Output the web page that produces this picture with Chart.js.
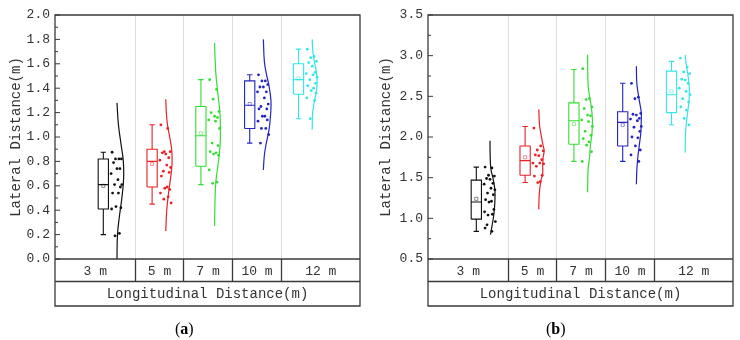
<!DOCTYPE html>
<html lang="en">
<head>
<meta charset="UTF-8">
<title>Lateral Distance vs Longitudinal Distance</title>
<script src="https://cdn.jsdelivr.net/npm/chart.js"></script>
<style>
  body { margin: 0; background: #fff; }
  .wrap { position: relative; width: 740px; height: 340px; }
  canvas { position: absolute; top: 0; }
  #chartA { left: 0; }
  #chartB { left: 370px; }
  .panel { position: absolute; top: 320px; font: 16px "Liberation Serif", serif; color: #000; }
</style>
</head>
<body>
<div class="wrap">
  <canvas id="chartA" width="370" height="340"></canvas>
  <canvas id="chartB" width="370" height="340"></canvas>
  <div class="panel" style="left:175px">(<b>a</b>)</div>
  <div class="panel" style="left:546px">(<b>b</b>)</div>
</div>

<script>
const categories = ['3 m', '5 m', '7 m', '10 m', '12 m'];
const colors = ['#111111', '#ea2026', '#33de33', '#2424c2', '#33e6e6'];
const xTitle = 'Longitudinal Distance(m)';
const yTitle = 'Lateral Distance(m)';

// ---- panel (a) ----
const aTicks = [0.0, 0.2, 0.4, 0.6, 0.8, 1.0, 1.2, 1.4, 1.6, 1.8, 2.0];
const aMin  = [0.20, 0.45, 0.61, 0.95, 1.15];
const aQ1   = [0.41, 0.59, 0.76, 1.07, 1.35];
const aMed  = [0.61, 0.80, 1.01, 1.26, 1.47];
const aQ3   = [0.82, 0.90, 1.25, 1.46, 1.60];
const aMax  = [0.875, 1.10, 1.47, 1.51, 1.72];
const aMean = [0.60, 0.78, 1.03, 1.27, 1.48];
const aPoints = [
  [0.875, 0.82, 0.82, 0.82, 0.79, 0.74, 0.74, 0.70, 0.65, 0.61, 0.61, 0.59, 0.54, 0.54, 0.43, 0.42, 0.41, 0.21, 0.19],
  [1.10, 1.07, 0.88, 0.88, 0.87, 0.86, 0.83, 0.81, 0.77, 0.75, 0.72, 0.71, 0.68, 0.59, 0.58, 0.57, 0.54, 0.51, 0.49, 0.46],
  [1.47, 1.39, 1.31, 1.21, 1.20, 1.17, 1.16, 1.14, 1.13, 1.07, 0.95, 0.93, 0.88, 0.87, 0.86, 0.85, 0.73, 0.63, 0.62],
  [1.51, 1.46, 1.46, 1.43, 1.41, 1.41, 1.37, 1.37, 1.32, 1.27, 1.25, 1.23, 1.23, 1.17, 1.17, 1.14, 1.13, 1.07, 1.07, 1.02, 0.95],
  [1.72, 1.66, 1.65, 1.62, 1.61, 1.58, 1.53, 1.52, 1.51, 1.49, 1.47, 1.44, 1.42, 1.40, 1.38, 1.36, 1.32, 1.30, 1.15]
];
// half violin outline: [lateral distance, half width]
const aViolin = [
  [[0.0, 0], [0.2, 0.01], [0.35, 0.05], [0.5, 0.10], [0.65, 0.135], [0.8, 0.13], [0.95, 0.08], [1.1, 0.03], [1.28, 0]],
  [[0.23, 0], [0.4, 0.02], [0.55, 0.06], [0.7, 0.11], [0.8, 0.13], [0.9, 0.12], [1.0, 0.08], [1.1, 0.035], [1.2, 0.012], [1.31, 0]],
  [[0.27, 0], [0.5, 0.01], [0.65, 0.03], [0.8, 0.08], [0.95, 0.115], [1.05, 0.12], [1.2, 0.11], [1.35, 0.07], [1.5, 0.03], [1.65, 0.01], [1.77, 0]],
  [[0.73, 0], [0.85, 0.02], [0.95, 0.06], [1.07, 0.12], [1.2, 0.15], [1.3, 0.155], [1.43, 0.11], [1.52, 0.06], [1.62, 0.02], [1.8, 0]],
  [[1.06, 0], [1.2, 0.01], [1.3, 0.05], [1.4, 0.095], [1.47, 0.10], [1.55, 0.08], [1.65, 0.03], [1.72, 0.01], [1.8, 0]]
];

// ---- panel (b) ----
const bTicks = [0.5, 1.0, 1.5, 2.0, 2.5, 3.0, 3.5];
const bMin  = [0.84, 1.44, 1.70, 1.70, 2.15];
const bQ1   = [0.99, 1.53, 1.91, 1.89, 2.30];
const bMed  = [1.20, 1.71, 2.20, 2.18, 2.52];
const bQ3   = [1.47, 1.89, 2.42, 2.31, 2.81];
const bMax  = [1.63, 2.13, 2.83, 2.66, 2.93];
const bMean = [1.24, 1.75, 2.16, 2.15, 2.56];
const bPoints = [
  [1.63, 1.62, 1.53, 1.52, 1.49, 1.48, 1.43, 1.42, 1.37, 1.35, 1.31, 1.29, 1.23, 1.21, 1.20, 1.11, 1.08, 1.05, 1.04, 0.96, 0.92, 0.88, 0.84],
  [2.11, 1.89, 1.84, 1.83, 1.78, 1.77, 1.72, 1.68, 1.68, 1.67, 1.64, 1.53, 1.52, 1.45, 1.44],
  [2.84, 2.47, 2.46, 2.37, 2.35, 2.27, 2.26, 2.21, 2.19, 2.13, 2.07, 2.02, 1.98, 1.94, 1.90, 1.82, 1.70],
  [2.66, 2.49, 2.47, 2.29, 2.28, 2.27, 2.23, 2.22, 2.20, 2.13, 2.12, 2.07, 2.00, 1.99, 1.89, 1.84, 1.78, 1.70],
  [2.97, 2.86, 2.80, 2.78, 2.71, 2.70, 2.66, 2.60, 2.56, 2.52, 2.47, 2.43, 2.37, 2.33, 2.23, 2.15]
];
const bViolin = [
  [[0.8, 0.01], [0.9, 0.04], [1.05, 0.08], [1.2, 0.10], [1.35, 0.10], [1.5, 0.06], [1.6, 0.02], [1.75, 0.005], [1.955, 0]],
  [[1.11, 0], [1.3, 0.01], [1.45, 0.04], [1.55, 0.08], [1.65, 0.08], [1.75, 0.09], [1.83, 0.11], [1.92, 0.08], [2.05, 0.04], [2.15, 0.015], [2.34, 0]],
  [[1.32, 0], [1.6, 0.01], [1.75, 0.04], [1.9, 0.06], [2.05, 0.09], [2.2, 0.10], [2.35, 0.08], [2.5, 0.04], [2.65, 0.01], [3.01, 0]],
  [[1.42, 0], [1.6, 0.01], [1.75, 0.03], [1.9, 0.06], [2.05, 0.09], [2.2, 0.10], [2.3, 0.10], [2.45, 0.06], [2.6, 0.02], [2.7, 0.005], [2.87, 0]],
  [[1.81, 0], [2.0, 0.005], [2.15, 0.02], [2.3, 0.05], [2.45, 0.08], [2.6, 0.085], [2.75, 0.06], [2.88, 0.025], [3.01, 0]]
];

// layout bits (category slots sit at 0..4 on a linear x scale)
const boxHalf = 0.105, capHalf = 0.055, violinOffset = 0.28;
const dividers = [0.64, 1.64, 2.64, 3.64];
const jitter = [-0.10, 0.04, -0.03, 0.09, -0.07, 0.0, 0.06, -0.12, 0.02, 0.10, -0.05, 0.07, -0.09, 0.03, -0.02, 0.08, -0.11, 0.05, -0.04, 0.11, -0.06];
const font = '"Liberation Mono", monospace';

function fade(hex, a) {
  const n = parseInt(hex.slice(1), 16);
  return `rgba(${n >> 16},${(n >> 8) & 255},${n & 255},${a})`;
}

function buildDatasets(min, q1, med, q3, max, mean, points, violin) {
  const sets = [];
  categories.forEach((c, i) => {
    const col = colors[i];
    const gap = {x: i, y: null};
    sets.push({
      data: [
        {x: i - boxHalf, y: q1[i]}, {x: i + boxHalf, y: q1[i]}, {x: i + boxHalf, y: q3[i]},
        {x: i - boxHalf, y: q3[i]}, {x: i - boxHalf, y: q1[i]}, gap,
        {x: i - boxHalf, y: med[i]}, {x: i + boxHalf, y: med[i]}, gap,
        {x: i, y: q3[i]}, {x: i, y: max[i]}, gap,
        {x: i - capHalf, y: max[i]}, {x: i + capHalf, y: max[i]}, gap,
        {x: i, y: q1[i]}, {x: i, y: min[i]}, gap,
        {x: i - capHalf, y: min[i]}, {x: i + capHalf, y: min[i]}
      ],
      showLine: true, spanGaps: false, borderColor: col, borderWidth: 1.1,
      pointRadius: 0, tension: 0
    });
    sets.push({
      data: [{x: i, y: mean[i]}],
      pointStyle: 'rect', pointRadius: 2.2, borderWidth: 0.9,
      borderColor: fade(col, 0.55), backgroundColor: 'rgba(255,255,255,0)'
    });
    sets.push({
      data: violin[i].map(([y, w]) => ({x: i + violinOffset + w, y})),
      showLine: true, borderColor: col, borderWidth: 1.2, pointRadius: 0, tension: 0.4
    });
    sets.push({
      data: points[i].map((y, k) => ({x: i + violinOffset + jitter[k % jitter.length], y})),
      pointRadius: 1.4, borderWidth: 0, backgroundColor: col
    });
  });
  return sets;
}

const tableFrame = {
  id: 'tableFrame',
  beforeDatasetsDraw(chart) {
    const {ctx, chartArea: a, scales: {x}} = chart;
    ctx.save();
    ctx.strokeStyle = '#dedede';
    ctx.lineWidth = 1;
    dividers.forEach(d => {
      const px = Math.round(x.getPixelForValue(d)) + 0.5;
      ctx.beginPath();
      ctx.moveTo(px, a.top);
      ctx.lineTo(px, a.bottom);
      ctx.stroke();
    });
    ctx.restore();
  },
  afterDraw(chart) {
    const {ctx, chartArea: a, scales: {x, y}} = chart;
    const r1 = a.bottom + 22.5, r2 = a.bottom + 47;
    const edges = [a.left, ...dividers.map(d => Math.round(x.getPixelForValue(d)) + 0.5), a.right];
    ctx.save();
    ctx.strokeStyle = '#3a3a3a';
    ctx.lineWidth = 1.3;
    ctx.beginPath();
    ctx.rect(a.left, a.top, a.right - a.left, r2 - a.top);
    ctx.moveTo(a.left, a.bottom); ctx.lineTo(a.right, a.bottom);
    ctx.moveTo(a.left, r1); ctx.lineTo(a.right, r1);
    edges.slice(1, -1).forEach(px => { ctx.moveTo(px, a.bottom); ctx.lineTo(px, r1); });
    ctx.stroke();

    // inward ticks, major and minor
    ctx.lineWidth = 1;
    ctx.beginPath();
    const vals = y.ticks.map(t => t.value);
    vals.forEach((v, k) => {
      const py = y.getPixelForValue(v);
      ctx.moveTo(a.left, py); ctx.lineTo(a.left + 5, py);
      if (k < vals.length - 1) {
        const pm = y.getPixelForValue((v + vals[k + 1]) / 2);
        ctx.moveTo(a.left, pm); ctx.lineTo(a.left + 3, pm);
      }
    });
    ctx.stroke();

    ctx.fillStyle = '#333';
    ctx.textAlign = 'center';
    ctx.textBaseline = 'middle';
    ctx.font = '13px ' + font;
    categories.forEach((c, i) => ctx.fillText(c, (edges[i] + edges[i + 1]) / 2, (a.bottom + r1) / 2 + 1));
    ctx.font = '14px ' + font;
    ctx.fillText(xTitle, (a.left + a.right) / 2, (r1 + r2) / 2 + 1);
    ctx.restore();
  }
};

function makeChart(id, ticks, axisWidth, padRight, datasets) {
  return new Chart(document.getElementById(id), {
    type: 'scatter',
    data: {datasets},
    options: {
      responsive: false,
      animation: false,
      devicePixelRatio: 1,
      layout: {padding: {top: 15, right: padRight, bottom: 81, left: 0}},
      plugins: {legend: {display: false}, tooltip: {enabled: false}},
      scales: {
        x: {type: 'linear', min: -0.99, max: 5.26, display: false},
        y: {
          min: ticks[0], max: ticks[ticks.length - 1],
          afterBuildTicks: s => { s.ticks = ticks.map(v => ({value: v})); },
          afterFit: s => { s.width = axisWidth; },
          grid: {display: false, drawTicks: false},
          border: {display: false},
          ticks: {padding: 5, color: '#333', font: {family: font, size: 13}, callback: v => v.toFixed(1)},
          title: {display: true, text: yTitle, color: '#333', font: {family: font, size: 14}, padding: {top: 8}}
        }
      }
    },
    plugins: [tableFrame]
  });
}

makeChart('chartA', aTicks, 55, 10, buildDatasets(aMin, aQ1, aMed, aQ3, aMax, aMean, aPoints, aViolin));
makeChart('chartB', bTicks, 58, 7, buildDatasets(bMin, bQ1, bMed, bQ3, bMax, bMean, bPoints, bViolin));
</script>
</body>
</html>
